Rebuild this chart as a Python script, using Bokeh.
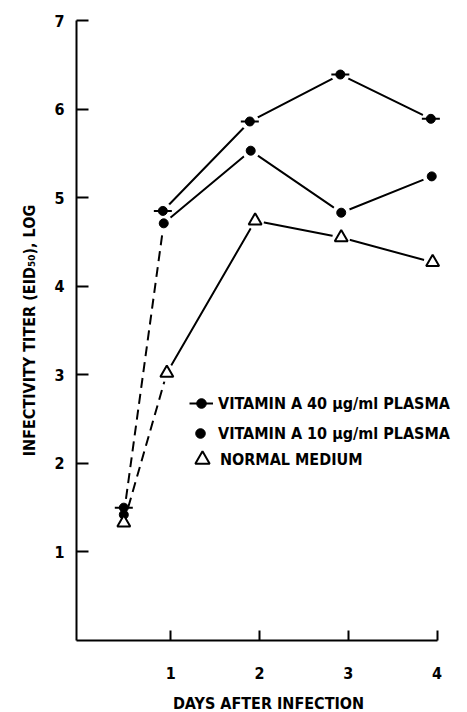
from bokeh.plotting import figure
from bokeh.models import Range1d, FixedTicker, Legend, LegendItem
from bokeh.embed import file_html
from bokeh.resources import INLINE

# ---- data ----
days_40 = [0.47, 0.91, 1.89, 2.91, 3.93]
vit40 = [1.50, 4.85, 5.86, 6.39, 5.89]

days_10 = [0.47, 0.92, 1.90, 2.92, 3.94]
vit10 = [1.42, 4.71, 5.53, 4.83, 5.24]

days_n = [0.47, 0.955, 1.95, 2.92, 3.95]
normal = [1.33, 3.02, 4.74, 4.55, 4.27]

x_ticks = [1, 2, 3, 4]
y_ticks = [1, 2, 3, 4, 5, 6, 7]
x_axis_span = (-0.063, 4.005)

label_40 = "VITAMIN A 40 \u03bcg/ml PLASMA"
label_10 = "VITAMIN A 10 \u03bcg/ml PLASMA"
label_n = "NORMAL MEDIUM"
x_title = "DAYS AFTER INFECTION"
y_title = "INFECTIVITY TITER (EID\u2085\u2080), LOG"

FONT = "DejaVu Sans Condensed"

p = figure(frame_width=384, frame_height=620,
           x_range=Range1d(-0.063, 4.264), y_range=Range1d(0, 7),
           output_backend="svg", toolbar_location=None,
           min_border_left=76, min_border_top=20,
           min_border_right=2, min_border_bottom=70)
p.grid.visible = False
p.outline_line_color = None

for ax in (p.xaxis[0], p.yaxis[0]):
    ax.axis_line_width = 2
    ax.axis_line_color = "black"
    ax.major_tick_line_width = 2
    ax.major_tick_line_color = "black"
    ax.major_tick_out = 0
    ax.minor_tick_line_color = None
    ax.major_label_text_font = FONT
    ax.major_label_text_font_style = "bold"
    ax.major_label_text_font_size = "16px"
    ax.major_label_text_color = "black"
    ax.axis_label_text_font = FONT
    ax.axis_label_text_font_style = "bold"
    ax.axis_label_text_font_size = "16px"
    ax.axis_label_text_color = "black"

p.xaxis.bounds = x_axis_span
p.xaxis.ticker = FixedTicker(ticks=x_ticks)
p.yaxis.ticker = FixedTicker(ticks=y_ticks)
p.xaxis.major_tick_in = 10
p.yaxis.major_tick_in = 12
p.xaxis.major_label_standoff = 26
p.yaxis.major_label_standoff = 12
p.xaxis.axis_label = x_title
p.yaxis.axis_label = y_title
p.xaxis.axis_label_standoff = 12
p.yaxis.axis_label_standoff = 12

# ---- lines ----
dash = "10 6"
r40_line = p.line(days_40[1:], vit40[1:], line_color="black", line_width=2)
r10_line = p.line(days_10[1:], vit10[1:], line_color="black", line_width=2)
rn_line = p.line(days_n[1:], normal[1:], line_color="black", line_width=2)
p.line(days_10[:2], vit10[:2], line_color="black", line_width=2, line_dash=dash)
p.line(days_n[:2], normal[:2], line_color="black", line_width=2, line_dash=dash)

# white halos to leave gaps where lines meet markers
for xs, ys in ((days_40, vit40), (days_10, vit10), (days_n, normal)):
    p.scatter(xs[1:], ys[1:], marker="circle", size=18, fill_color="white", line_color=None)

# ---- markers ----
r40_bar = p.scatter(days_40, vit40, marker="dash", size=18, line_color="black", line_width=2)
r40_dot = p.scatter(days_40, vit40, marker="circle", size=9, fill_color="black", line_color="black")
r10_dot = p.scatter(days_10, vit10, marker="circle", size=9, fill_color="black", line_color="black")
rn_tri = p.scatter(days_n, normal, marker="triangle", size=13, fill_color="white",
                   line_color="black", line_width=2)

def make_legend(item, loc, gw, gh, standoff):
    lg = Legend(items=[item], location=loc, glyph_width=gw, glyph_height=gh,
                label_height=gh, label_standoff=standoff, padding=0, margin=0,
                border_line_color=None, background_fill_alpha=0,
                label_text_font=FONT, label_text_font_style="bold",
                label_text_font_size="16px", label_text_color="black")
    p.add_layout(lg)

make_legend(LegendItem(label=label_40, renderers=[r40_line, r40_dot]), (113, 225), 24, 24, 5)
make_legend(LegendItem(label=label_10, renderers=[r10_dot]), (112, 195), 24, 24, 6)
make_legend(LegendItem(label=label_n, renderers=[rn_tri]), (108, 163), 36, 36, 0)

open("out.html", "w").write(file_html(p, INLINE))
